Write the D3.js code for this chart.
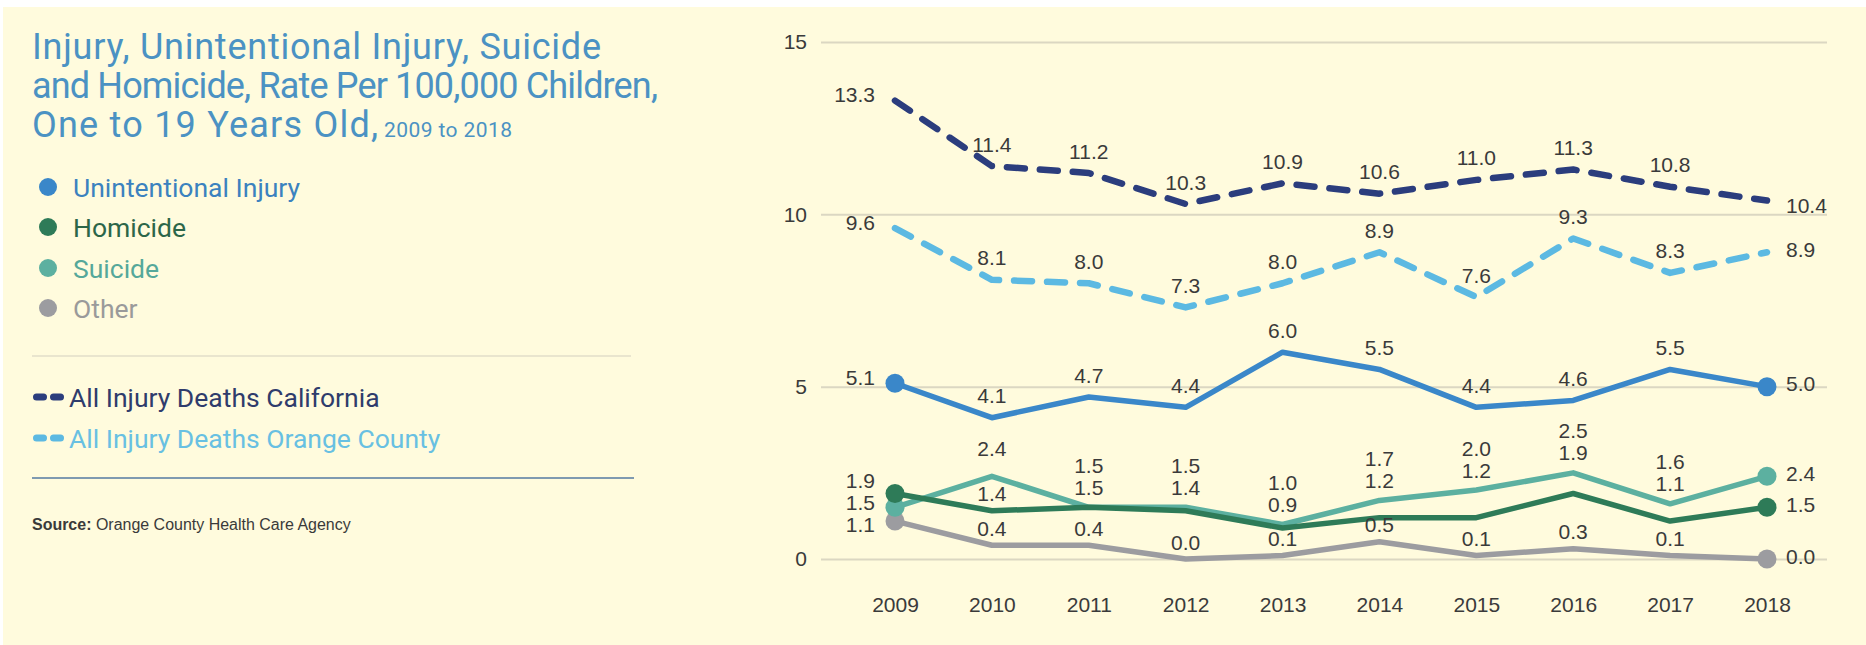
<!DOCTYPE html>
<html>
<head>
<meta charset="utf-8">
<script src="https://cdn.jsdelivr.net/npm/d3@7"></script>
<style>
  html, body { margin: 0; padding: 0; background: #ffffff; }
  svg { display: block; }
</style>
</head>
<body>
<svg id="chart" width="1866" height="645"></svg>
<script>
// ---------- DATA ----------
const years = [2009, 2010, 2011, 2012, 2013, 2014, 2015, 2016, 2017, 2018];
const yTickValues = [0, 5, 10, 15];
const california    = [13.3, 11.4, 11.2, 10.3, 10.9, 10.6, 11.0, 11.3, 10.8, 10.4];
const orangeCounty  = [9.6, 8.1, 8.0, 7.3, 8.0, 8.9, 7.6, 9.3, 8.3, 8.9];
const unintentional = [5.1, 4.1, 4.7, 4.4, 6.0, 5.5, 4.4, 4.6, 5.5, 5.0];
const homicide      = [1.9, 1.4, 1.5, 1.4, 0.9, 1.2, 1.2, 1.9, 1.1, 1.5];
const suicide       = [1.5, 2.4, 1.5, 1.5, 1.0, 1.7, 2.0, 2.5, 1.6, 2.4];
const other         = [1.1, 0.4, 0.4, 0.0, 0.1, 0.5, 0.1, 0.3, 0.1, 0.0];

const titleLines = ["Injury, Unintentional Injury, Suicide",
                    "and Homicide, Rate Per 100,000 Children,",
                    "One to 19 Years Old,"];
const titleSub = "2009 to 2018";
const dotLegend = ["Unintentional Injury", "Homicide", "Suicide", "Other"];
const dashLegend = ["All Injury Deaths California", "All Injury Deaths Orange County"];
const sourceBold = "Source:";
const sourceText = " Orange County Health Care Agency";

// ---------- STYLE ----------
const C = {
  bg: "#fffbdd",
  grid: "#dbd7c2",
  title: "#4b92c3",
  label: "#3a3a3a",
  ca: "#2b3d7d",
  oc: "#5cb9e2",
  unint: "#3a87c9",
  hom: "#2e7b58",
  sui: "#5cb0a0",
  oth: "#9c9ca0"
};
const numFont = "'Liberation Sans Narrow', 'Arial Narrow', sans-serif";
const textFont = "Roboto, 'Noto Sans', sans-serif";

const svg = d3.select("#chart");
svg.append("rect").attr("x", 3).attr("y", 7).attr("width", 1863).attr("height", 638).attr("fill", C.bg);

function fit(sel, target) {
  const node = sel.node();
  const fs = parseFloat(sel.attr("font-size"));
  const w = node.getComputedTextLength();
  sel.attr("font-size", (fs * target / w).toFixed(2));
}

// ---------- LEFT PANEL ----------
const left = svg.append("g");
const tBase = [59, 98, 137];
const tWidths = [569, 626, 346];
titleLines.forEach((t, i) => {
  left.append("text").attr("x", 32).attr("y", tBase[i])
    .attr("font-family", textFont).attr("font-size", 36).attr("fill", C.title)
    .attr("textLength", tWidths[i]).attr("lengthAdjust", "spacing").text(t);
});
left.append("text").attr("x", 384).attr("y", 137)
  .attr("font-family", textFont).attr("font-size", 21).attr("fill", C.title)
  .attr("textLength", 128).attr("lengthAdjust", "spacing").text(titleSub);

const dotColors = [C.unint, C.hom, C.sui, C.oth];
const dotTextColors = ["#3b82bf", "#2c6649", "#55a89a", "#9a9a9a"];
const legY = [187, 227, 268, 308];
const legFs = 26.5;
dotLegend.forEach((t, i) => {
  left.append("circle").attr("cx", 48).attr("cy", legY[i]).attr("r", 9).attr("fill", dotColors[i]);
  left.append("text").attr("x", 73).attr("y", legY[i]).attr("dy", "0.36em")
    .attr("font-family", textFont).attr("font-size", legFs).attr("fill", dotTextColors[i]).text(t);
});

left.append("line").attr("x1", 32).attr("x2", 631).attr("y1", 356).attr("y2", 356)
  .attr("stroke", "#e2dec8").attr("stroke-width", 1.5);

const dashColors = [C.ca, C.oc];
const dashTextColors = ["#2f3c6c", "#68c0e2"];
const dashY = [397, 438];
dashLegend.forEach((t, i) => {
  [33, 50].forEach(x0 => {
    left.append("rect").attr("x", x0).attr("y", dashY[i] - 3.5).attr("width", 14).attr("height", 7)
      .attr("rx", 3.5).attr("fill", dashColors[i]);
  });
  left.append("text").attr("x", 69).attr("y", dashY[i]).attr("dy", "0.36em")
    .attr("font-family", textFont).attr("font-size", legFs).attr("fill", dashTextColors[i]).text(t);
});

left.append("line").attr("x1", 32).attr("x2", 634).attr("y1", 478).attr("y2", 478)
  .attr("stroke", "#7f9ab0").attr("stroke-width", 2);

const src = left.append("text").attr("x", 32).attr("y", 524).attr("dy", "0.36em")
  .attr("font-family", numFont).attr("font-size", 15).attr("fill", "#3a3a3a");
src.append("tspan").attr("font-weight", "bold").text(sourceBold);
src.append("tspan").text(sourceText);
fit(src, 319);

// ---------- CHART ----------
const gridLeft = 821, gridRight = 1827;
const x = d3.scaleLinear().domain([2009, 2018]).range([895, 1767]);
const y = d3.scaleLinear().domain([0, 15]).range([559, 42]);

const yAxis = d3.axisLeft(y).tickValues(yTickValues).tickSize(-(gridRight - gridLeft)).tickPadding(14).tickFormat(d3.format("d"));
const gy = svg.append("g").attr("transform", `translate(${gridLeft},0)`).call(yAxis);
gy.select(".domain").remove();
gy.selectAll(".tick line").attr("stroke", C.grid).attr("stroke-width", 2);
gy.selectAll(".tick text").attr("font-family", numFont).attr("font-size", 21).attr("fill", C.label);

const xAxis = d3.axisBottom(x).tickValues(years).tickSize(0).tickPadding(38).tickFormat(d3.format("d"));
const gx = svg.append("g").attr("transform", `translate(0,${y(0)})`).call(xAxis);
gx.select(".domain").remove();
gx.selectAll(".tick text").attr("font-family", numFont).attr("font-size", 21).attr("fill", C.label);

const line = d3.line().x((d, i) => x(years[i])).y(d => y(d)).curve(d3.curveLinear);

function drawLine(vals, color, width, dashed) {
  const p = svg.append("path").datum(vals).attr("d", line).attr("fill", "none")
    .attr("stroke", color).attr("stroke-width", width).attr("stroke-linejoin", "round")
    .attr("stroke-linecap", "round");
  if (dashed) p.attr("stroke-dasharray", "18 15");
}
function drawEndDots(vals, color) {
  svg.append("g").selectAll("circle").data([0, vals.length - 1]).join("circle")
    .attr("cx", i => x(years[i])).attr("cy", i => y(vals[i])).attr("r", 9.5).attr("fill", color);
}

drawLine(california, C.ca, 6.5, true);
drawLine(orangeCounty, C.oc, 6.5, true);
drawLine(other, C.oth, 5.5, false);
drawLine(suicide, C.sui, 5.5, false);
drawLine(homicide, C.hom, 5.5, false);
drawLine(unintentional, C.unint, 5.5, false);
drawEndDots(other, C.oth);
drawEndDots(suicide, C.sui);
drawEndDots(homicide, C.hom);
drawEndDots(unintentional, C.unint);

// ---------- LABELS ----------
const labels = svg.append("g").attr("font-family", numFont).attr("font-size", 21).attr("fill", C.label);
const fmt = d3.format(".1f");
function lab(xp, yc, v, anchor) {
  labels.append("text").attr("x", xp).attr("y", yc).attr("dy", "0.36em")
    .attr("text-anchor", anchor).text(fmt(v));
}
const last = years.length - 1;
[california, orangeCounty, unintentional].forEach(vals => {
  vals.forEach((v, i) => {
    const px = x(years[i]), py = y(v);
    if (i === 0) lab(px - 20, py - 6, v, "end");
    else if (i === last) lab(px + 19, py + (vals === california ? 5 : -3), v, "start");
    else lab(px, py - 22, v, "middle");
  });
});
// 2009 stacked left labels for the low series
{
  const vals = [homicide[0], suicide[0], other[0]].sort((a, b) => b - a);
  const top = y(vals[0]) - 13;
  vals.forEach((v, k) => lab(x(years[0]) - 20, top + k * 22, v, "end"));
}
// 2018 right labels
[homicide, suicide, other].forEach(vals => lab(x(years[last]) + 19, y(vals[last]) - 3, vals[last], "start"));
// middle years
for (let i = 1; i < last; i++) {
  const px = x(years[i]);
  const h = homicide[i], s = suicide[i];
  const hi = Math.max(h, s), lo = Math.min(h, s);
  if (y(lo) - y(hi) > 30) {
    lab(px, y(hi) - 28, hi, "middle");
    lab(px, y(lo) - 17, lo, "middle");
  } else {
    const lower = y(hi) - 20;
    lab(px, lower, lo, "middle");
    lab(px, lower - 22, hi, "middle");
  }
  lab(px, y(other[i]) - 17, other[i], "middle");
}
</script>
</body>
</html>
